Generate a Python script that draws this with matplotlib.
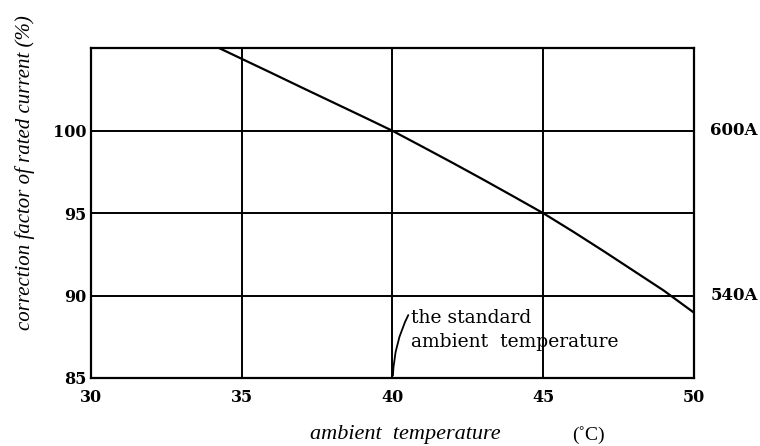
import numpy as np
import matplotlib
matplotlib.use("Agg")
import matplotlib.pyplot as plt

# values
temps = [34.23, 35, 36, 37, 38, 39, 40, 41, 42, 43, 44, 45, 46, 47, 48, 49, 50]
factor = [105.04, 104.37, 103.5, 102.62, 101.75, 100.88, 100.0, 99.03, 98.05, 97.05,
          96.03, 95.0, 93.87, 92.7, 91.5, 90.3, 88.96]

x_ticks = [30, 35, 40, 45, 50]
y_ticks = [85, 90, 95, 100]
right_labels = ["600A", "540A"]
right_levels = [100, 90]

plt.rcParams['font.family'] = ['DejaVu Serif']

fig = plt.figure(figsize=(7.6, 4.46), dpi=100)
ax = fig.add_axes([0.1193, 0.1525, 0.7939, 0.7406])

ax.plot(temps, factor, color='black', lw=1.6, solid_capstyle='butt')

ax.set_xlim(30, 50)
ax.set_ylim(85, 105.04)
ax.set_xticks(x_ticks)
ax.set_yticks(y_ticks)
ax.grid(True, color='black', lw=1.4)
ax.tick_params(axis='y', length=0, labelsize=11.5, pad=3)
ax.tick_params(axis='x', length=0, labelsize=11.5, pad=8)
for lab in ax.get_xticklabels() + ax.get_yticklabels():
    lab.set_fontweight('bold')
for s in ax.spines.values():
    s.set_linewidth(1.6)

for lab, lev in zip(right_labels, right_levels):
    ax.text(1.027, lev, lab, transform=ax.get_yaxis_transform(), va='center',
            ha='left', fontsize=12, fontweight='bold')

ax.annotate("the standard\nambient  temperature", xy=(40.02, 85.15), xytext=(40.62, 87.93),
            fontsize=13.5, ha='left', va='center', linespacing=1.45,
            arrowprops=dict(arrowstyle='-', color='black', lw=1.3,
                            shrinkA=0, shrinkB=0,
                            connectionstyle='arc3,rad=0.12',
                            relpos=(0, 0.97)))

fig.text(25 / 760, 1 - 173 / 446, "correction factor of rated current (%)",
         fontsize=15, style='italic', rotation=90, ha='center', va='center',
         family='Liberation Serif')
fig.text(405 / 760, 1 - 435 / 446, "ambient  temperature", fontsize=16, style='italic',
         ha='center', va='center', family='Liberation Serif')
fig.text(588 / 760, 1 - 435 / 446, "(\u02daC)", fontsize=14, ha='center', va='center',
         family='Liberation Serif')

fig.savefig("out.png", dpi=100)
